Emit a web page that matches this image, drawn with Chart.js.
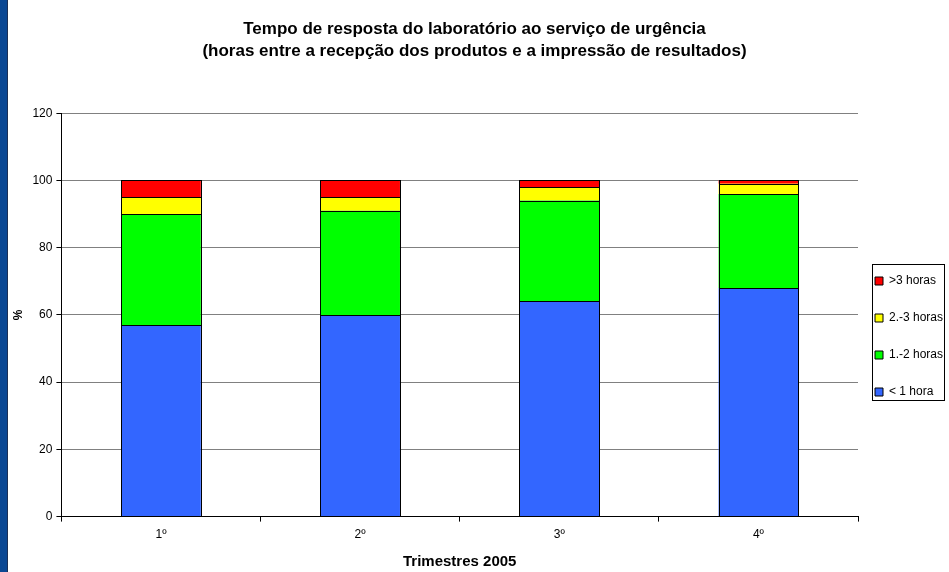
<!DOCTYPE html>
<html lang="pt">
<head>
<meta charset="UTF-8">
<title>Tempo de resposta do laboratório</title>
<script src="https://cdn.jsdelivr.net/npm/chart.js"></script>
<style>
  html, body { margin: 0; padding: 0; background: #fff; }
  #wrap { position: relative; width: 949px; height: 572px; }
  #faixa { position: absolute; left: 0; top: 0; width: 7px; height: 572px; background: #0a4793; border-right: 1px solid #1c2f55; }
</style>
</head>
<body>
<div id="wrap">
  <canvas id="grafico" width="949" height="572"></canvas>
  <div id="faixa"></div>
</div>
<script>
  // dados (% por trimestre)
  const trimestres = ['1º', '2º', '3º', '4º'];
  const menos1h = [57, 60, 64, 68];
  const de1a2h = [33, 31, 30, 28];
  const de2a3h = [5, 4, 4, 3];
  const mais3h = [5, 5, 2, 1];

  Chart.defaults.font.family = 'Arial, "Liberation Sans", sans-serif';
  Chart.defaults.color = '#000';

  // legenda: encostar à área do gráfico, descer, e desenhar a moldura
  const ajusteLegenda = {
    id: 'ajusteLegenda',
    afterLayout(chart) {
      const l = chart.legend;
      const dx = -8;
      const dy = 250 - l.top;
      l.left += dx;
      l.right = chart.width;
      l.width = l.right - l.left;
      l.top += dy; l.bottom += dy;
    },
    afterDraw(chart) {
      const caixas = chart.legend.legendHitBoxes;
      if (!caixas || !caixas.length) return;
      const x0 = Math.min(...caixas.map(b => b.left)) - 3;
      const x1 = Math.max(...caixas.map(b => b.left + b.width)) + 1;
      const y0 = Math.min(...caixas.map(b => b.top)) - 11;
      const y1 = Math.max(...caixas.map(b => b.top + b.height)) + 2;
      const ctx = chart.ctx;
      ctx.save();
      ctx.strokeStyle = '#000';
      ctx.lineWidth = 1;
      ctx.strokeRect(Math.round(x0) + 0.5, Math.round(y0) + 0.5, Math.round(x1 - x0), Math.round(y1 - y0));
      ctx.restore();
    }
  };

  // contorno preto nítido de cada segmento
  const contornoBarras = {
    id: 'contornoBarras',
    afterDatasetsDraw(chart) {
      const ctx = chart.ctx;
      ctx.save();
      ctx.strokeStyle = '#000';
      ctx.lineWidth = 1;
      chart.data.datasets.forEach((ds, i) => {
        chart.getDatasetMeta(i).data.forEach(bar => {
          const { x, y, base, width } = bar.getProps(['x', 'y', 'base', 'width'], true);
          const l = Math.round(x - width / 2) + 0.5;
          const r = Math.round(x + width / 2) + 0.5;
          const t = Math.round(Math.min(y, base)) + 0.5;
          const b = Math.round(Math.max(y, base)) + 0.5;
          ctx.strokeRect(l, t, r - l, b - t);
        });
      });
      ctx.restore();
    }
  };

  const serie = (label, data, cor) => ({
    label: label,
    data: data,
    backgroundColor: cor,
    borderWidth: 0,
    inflateAmount: 0,
    categoryPercentage: 1,
    barPercentage: 0.4
  });

  new Chart(document.getElementById('grafico'), {
    type: 'bar',
    data: {
      labels: trimestres,
      datasets: [
        serie('< 1 hora', menos1h, '#3366ff'),
        serie('1.-2 horas', de1a2h, '#00ff00'),
        serie('2.-3 horas', de2a3h, '#ffff00'),
        serie('>3 horas', mais3h, '#ff0000')
      ]
    },
    options: {
      responsive: false,
      animation: false,
      layout: { padding: { left: 0, right: 0, top: 0, bottom: 1 } },
      plugins: {
        title: {
          display: true,
          text: ['Tempo de resposta do laboratório ao serviço de urgência',
                 '(horas entre a recepção dos produtos e a impressão de resultados)'],
          font: { size: 17, weight: 'bold', lineHeight: 1.3 },
          padding: { top: 18, bottom: 51 }
        },
        legend: {
          position: 'right',
          align: 'start',
          reverse: true,
          maxWidth: 91,
          labels: {
            boxWidth: 8,
            boxHeight: 8,
            padding: 25,
            font: { size: 12 },
            generateLabels: chart => Chart.defaults.plugins.legend.labels.generateLabels(chart)
              .map(it => ({ ...it, lineWidth: 1, strokeStyle: '#000' }))
          }
        },
        tooltip: { enabled: false }
      },
      scales: {
        x: {
          stacked: true,
          grid: {
            offset: true,
            color: c => c.index === trimestres.length ? '#808080' : 'rgba(0,0,0,0)',
            tickColor: '#000',
            tickLength: 5
          },
          border: { color: '#000' },
          ticks: { font: { size: 12 }, padding: 6 },
          title: {
            display: true,
            text: 'Trimestres 2005',
            font: { size: 15, weight: 'bold' },
            padding: { top: 5, bottom: 0 }
          }
        },
        y: {
          stacked: true,
          min: 0,
          max: 120,
          ticks: { stepSize: 20, font: { size: 12 }, padding: 4 },
          grid: { color: '#808080', tickColor: '#000', tickLength: 5 },
          border: { color: '#000' },
          title: {
            display: true,
            text: '%',
            font: { size: 12, weight: 'bold' },
            padding: { top: 11, bottom: 3 }
          }
        }
      }
    },
    plugins: [ajusteLegenda, contornoBarras]
  });
</script>
</body>
</html>
